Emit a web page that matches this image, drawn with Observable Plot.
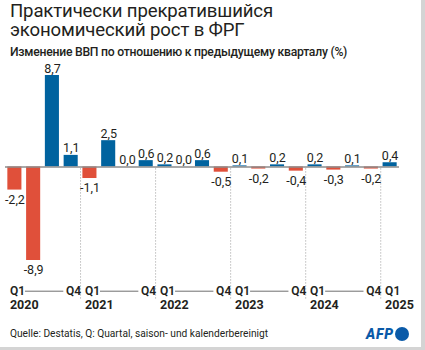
<!DOCTYPE html>
<html><head><meta charset="utf-8">
<script src="https://cdn.jsdelivr.net/npm/d3@7"></script>
<script src="https://cdn.jsdelivr.net/npm/@observablehq/plot@0.6"></script>
<style>
html,body{margin:0;padding:0;background:#d4d4d4;}
#card{position:relative;width:421px;height:347px;background:#fff;overflow:hidden;font-family:Roboto,"Noto Sans",sans-serif;color:#231f20;}
.tline{position:absolute;left:10px;height:17px;font-size:18.6px;line-height:17px;font-weight:400;letter-spacing:-0.15px;white-space:nowrap;}
#t1{top:3px;}
#t2{top:21.5px;}
#subtitle{position:absolute;left:10px;top:44.5px;font-size:12.2px;line-height:15px;font-weight:500;letter-spacing:-0.25px;}
#chart{position:absolute;left:0;top:60px;}
#caption{position:absolute;left:10px;top:328px;font-size:10.2px;line-height:12px;}
#logo{position:absolute;left:366px;top:325px;height:17px;display:flex;align-items:center;}
#logo span{font-weight:900;font-style:italic;font-size:14px;color:#0a5aa8;letter-spacing:0.8px;}
#logo i{display:inline-block;width:14px;height:14px;border-radius:50%;background:#0a5aa8;margin-left:1px;}
</style></head>
<body>
<div id="card">
  <div class="tline" id="t1">Практически прекратившийся</div>
  <div class="tline" id="t2">экономический рост в ФРГ</div>
  <div id="subtitle">Изменение ВВП по отношению к предыдущему кварталу (%)</div>
  <div id="chart"></div>
  <div id="caption">Quelle: Destatis, Q: Quartal, saison- und kalenderbereinigt</div>
  <div id="logo"><span>AFP</span><i></i></div>
</div>
<script>
const years = [2020, 2021, 2022, 2023, 2024, 2025];
const quarterNames = ["Q1", "Q2", "Q3", "Q4"];
const values = [-2.2, -8.9, 8.7, 1.1, -1.1, 2.5, 0.0, 0.6, 0.2, 0.0, 0.6, -0.5, 0.1, -0.2, 0.2, -0.4, 0.2, -0.3, 0.1, -0.2, 0.4];

const BLUE = "#00639f";
const RED = "#e0503a";

const data = values.map((v, i) => ({
  period: `${years[0] + Math.floor(i / 4)} ${quarterNames[i % 4]}`,
  year: years[0] + Math.floor(i / 4),
  q: quarterNames[i % 4],
  value: v,
  label: v.toFixed(1).replace(".", ",")
}));
const periods = data.map(d => d.period);

const W = 421, H = 255, ML = 5, MR = 22, MT = 15, MB = 55;
const step = (W - ML - MR) / periods.length;
const yMin = d3.min(values);

const q1 = data.filter(d => d.q === "Q1");
const q4 = data.filter(d => d.q === "Q4");
const spans = years.filter(y => data.some(d => d.year === y && d.q === "Q4"))
  .map(y => ({from: `${y} Q1`, to: `${y} Q4`}));
const seps = q1.filter(d => d.year !== years[0]);

const chart = Plot.plot({
  width: W, height: H,
  marginLeft: ML, marginRight: MR, marginTop: MT, marginBottom: MB,
  x: {type: "band", domain: periods, paddingInner: 0.25, paddingOuter: 0.125, round: false, axis: null},
  y: {domain: [yMin, d3.max(values)], axis: null},
  style: {fontFamily: "Roboto, 'Noto Sans', sans-serif", color: "#231f20", background: "transparent"},
  marks: [
    Plot.ruleX(seps, {x: "period", y1: 0, y2: yMin, dx: -step / 2, insetTop: 2, insetBottom: -39,
      stroke: "#9a9a9a", strokeWidth: 1, strokeDasharray: "1,2"}),
    Plot.barY(data, {x: "period", y: "value", fill: d => d.value < 0 ? RED : BLUE}),
    Plot.ruleY([0], {stroke: "#8c8c8c", strokeWidth: 1.5}),
    Plot.text(data.filter(d => d.value >= 0), {x: "period", y: "value", text: "label",
      lineAnchor: "bottom", dy: -3, fontSize: 12.5, fill: "#231f20"}),
    Plot.text(data.filter(d => d.value < 0), {x: "period", y: "value", text: "label",
      lineAnchor: "top", dy: 5, fontSize: 12.5, fill: "#231f20"}),
    Plot.text(q1, {x: "period", text: "q", frameAnchor: "bottom", textAnchor: "start", lineAnchor: "bottom",
      dx: -5, dy: 34, fontSize: 12, fontWeight: 600, fill: "#231f20"}),
    Plot.text(q4, {x: "period", text: "q", frameAnchor: "bottom", textAnchor: "end", lineAnchor: "bottom",
      dx: 10, dy: 34, fontSize: 12, fontWeight: 600, fill: "#231f20"}),
    Plot.text(q1, {x: "period", text: d => String(d.year), frameAnchor: "bottom", textAnchor: "start", lineAnchor: "bottom",
      dx: -5, dy: 48.5, fontSize: 12.5, fontWeight: 700, fill: "#231f20"}),
    Plot.ruleY(spans, {x1: "from", x2: "to", y: () => yMin, dy: 30.7, insetLeft: 17.6, insetRight: 14.4,
      stroke: "#6e6e6e", strokeWidth: 1})
  ]
});
document.getElementById("chart").appendChild(chart);
</script>
</body></html>
